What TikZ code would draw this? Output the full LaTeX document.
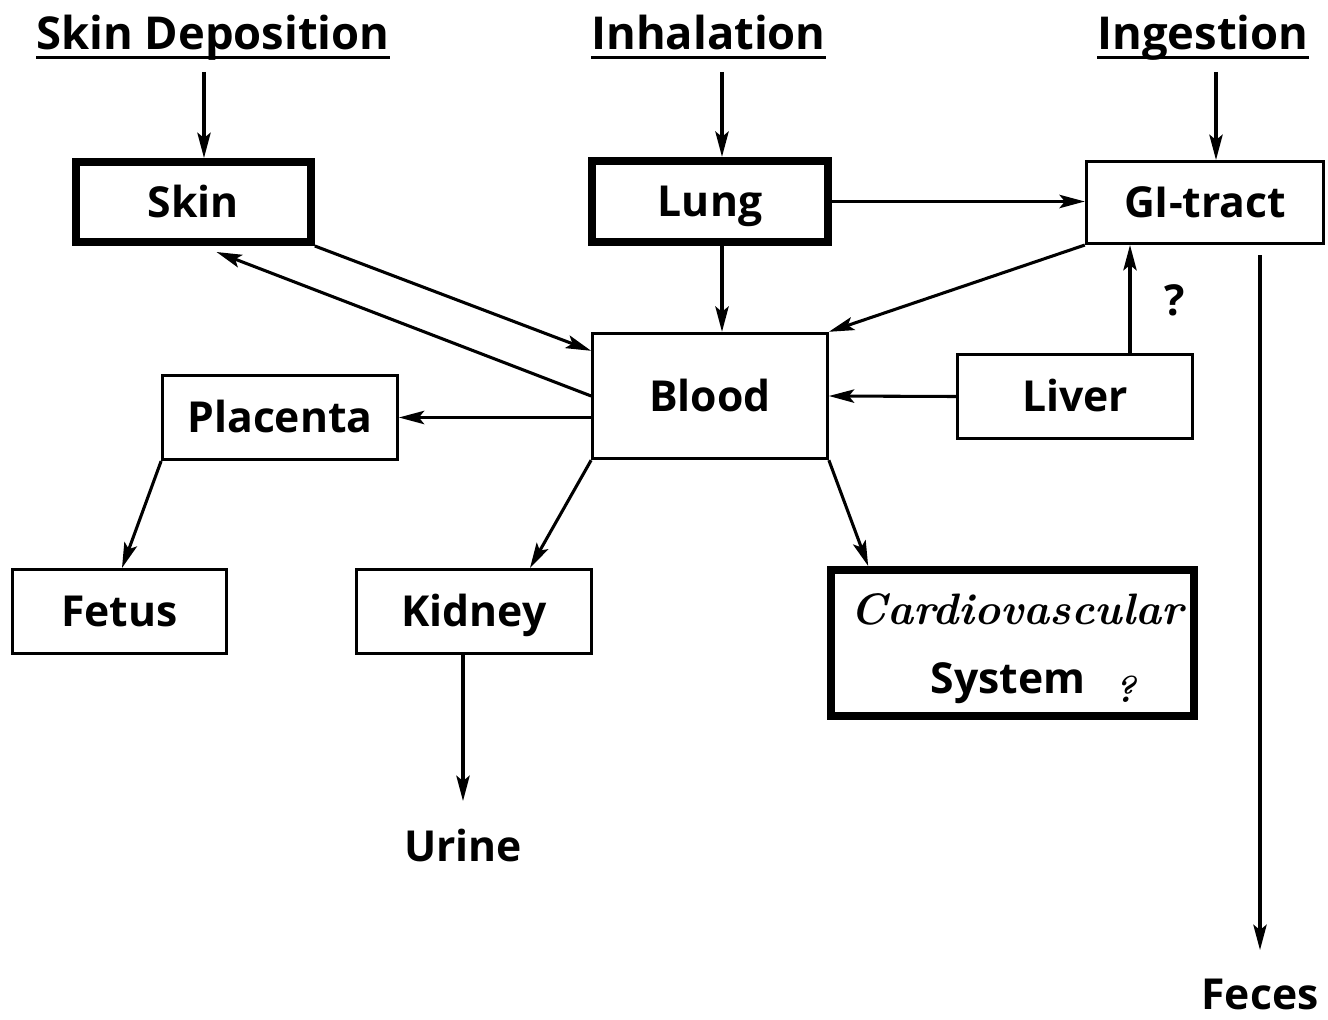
\documentclass[tikz,border=0pt]{standalone}
\usepackage{fontspec}
\newfontfamily\osans{Open Sans}
\usetikzlibrary{arrows.meta,calc}
\begin{document}
\begin{tikzpicture}[x=0.75pt,y=-0.75pt,
  box/.style={draw, line width=2.3pt, inner sep=0pt, text height=22.8pt, text depth=0pt, font=\osans\bfseries\fontsize{32}{38}\selectfont},
  thickbox/.style={box, line width=6pt},
  arr/.style={line width=2.3pt, -{Stealth[length=19pt,width=10pt,inset=4pt]}},
  ttl/.style={inner sep=0pt, anchor=base, font=\osans\bfseries\fontsize{34}{40}\selectfont},
  lbl/.style={inner sep=0pt, font=\osans\bfseries\fontsize{32}{38}\selectfont},
  hand/.style={inner sep=0pt, anchor=base, font=\bfseries\itshape\fontsize{33}{40}\selectfont},
  uline/.style={line width=2.3pt}]
\useasboundingbox (0,0) rectangle (1328,1020);
% titles
\node[ttl] (tskin) at (213,50) {Skin Deposition};
\node[ttl] (tinh) at (708.5,50) {Inhalation};
\node[ttl] (ting) at (1203,50) {Ingestion};
\draw[uline] ($(tskin.base west)+(0,7.5)$) -- ($(tskin.base east)+(0,7.5)$);
\draw[uline] ($(tinh.base west)+(0,7.5)$) -- ($(tinh.base east)+(0,7.5)$);
\draw[uline] ($(ting.base west)+(0,7.5)$) -- ($(ting.base east)+(0,7.5)$);
% boxes
\node[thickbox, minimum width=176pt, minimum height=60pt] (skin) at (193.5,202) {Skin};
\node[thickbox, minimum width=177pt, minimum height=61pt] (lung) at (710,201.5) {Lung};
\node[box, minimum width=178pt, minimum height=61.5pt] (gi) at (1205,202.5) {GI-tract};
\node[box, minimum width=176pt, minimum height=94pt] (blood) at (710,396) {Blood};
\node[box, minimum width=176pt, minimum height=63pt] (placenta) at (280,417.5) {Placenta};
\node[box, minimum width=176pt, minimum height=63pt] (liver) at (1075,396.5) {Liver};
\node[box, minimum width=160.5pt, minimum height=63pt] (fetus) at (119.5,611.5) {Fetus};
\node[box, minimum width=176pt, minimum height=63pt] (kidney) at (474,611.5) {Kidney};
\node[thickbox, minimum width=272pt, minimum height=109.5pt] (cardio) at (1012.5,643) {};
\node[hand] (cardiot) at (1017,624) {Cardiovascular};
\node[lbl, anchor=base] (systemt) at (1008,693) {System};
\node[hand, font=\bfseries\itshape\fontsize{28}{30}\selectfont] (qm2) at (1126,702) {?};
\node[lbl] (qm1) at (1175,300) {?};
\node[lbl, anchor=north] (urine) at (463,829) {Urine};
\node[lbl, anchor=north] (feces) at (1260,979) {Feces};
% entry points
\coordinate (eskin) at (204,72);
\coordinate (elung) at (722,72);
\coordinate (egi) at (1216,72);
\draw[arr] (eskin) -- (eskin |- skin.north);
\draw[arr] (elung) -- (elung |- lung.north);
\draw[arr] (egi) -- (egi |- gi.north);
% connectors
\draw[arr] (lung.east) -- (lung.east -| gi.west);
\draw[arr] ($(lung.south)+(12,0)$) -- ($(lung.south |- blood.north)+(12,0)$);
\draw[arr] (skin.south east) -- ($(blood.north west)+(0,19)$);
\draw[arr] (blood.west) -- ($(skin.south)+(23,6)$);
\draw[arr] (gi.south west) -- (blood.north east);
\draw[arr] (liver.west) -- (blood.east);
\draw[arr] ($(liver.north)+(55,0)$) -- ($(liver.north |- gi.south)+(55,0)$);
\draw[arr] (placenta.east -| blood.west) -- (placenta.east);
\draw[arr] (placenta.south west) -- ($(fetus.north)+(2.5,0)$);
\draw[arr] (blood.south west) -- ($(kidney.north)+(56,0)$);
\draw[arr] (blood.south east) -- ($(cardio.north west)+(41,0)$);
\draw[arr] (kidney.south -| urine.north) -- ($(urine.north)+(0,-28)$);
\draw[arr] ($(gi.south -| feces.north)+(0,10)$) -- ($(feces.north)+(0,-29)$);
\end{tikzpicture}
\end{document}
